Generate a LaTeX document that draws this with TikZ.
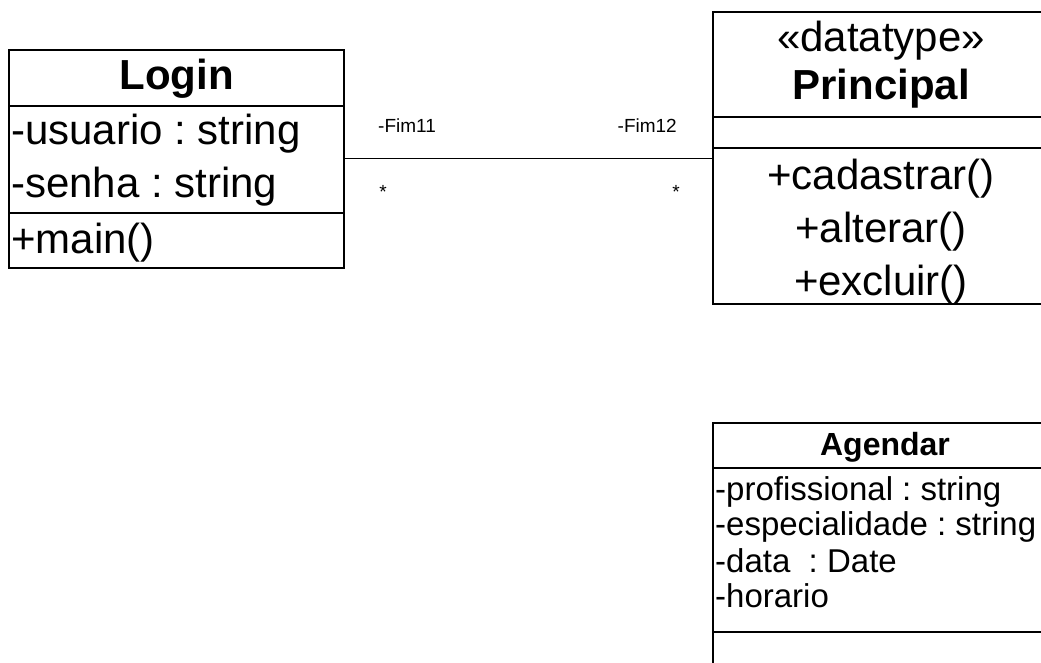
\documentclass[tikz,border=0pt]{standalone}
\usepackage{fontspec}
\setmainfont{Liberation Sans}
\frenchspacing
\begin{document}
\begin{tikzpicture}[x=1pt,y=-1pt,
  classbox/.style={draw,line width=1.4pt,inner sep=0pt},
  sep/.style={line width=1.4pt},
  assoc/.style={line width=1pt},
  big/.style={font=\fontsize{42}{50}\selectfont},
  small/.style={font=\fontsize{33}{38}\selectfont},
  tiny/.style={font=\fontsize{19}{22}\selectfont},
  attr/.style={anchor=base west,inner sep=0pt},
  centred/.style={anchor=base,inner sep=0pt}]
  \useasboundingbox (0,0) rectangle (1041,663);
  \node[classbox,minimum width=335pt,minimum height=218pt] (login) at (176.5,159) {};
  \node[classbox,minimum width=336pt,minimum height=292pt] (principal) at (881,158) {};
  \node[classbox,minimum width=344pt,minimum height=277pt] (agendar) at (885,561.5) {};
  \draw[sep] (login.west |- 0,106) -- (login.east |- 0,106);
  \draw[sep] (login.west |- 0,213) -- (login.east |- 0,213);
  \draw[sep] (principal.west |- 0,117) -- (principal.east |- 0,117);
  \draw[sep] (principal.west |- 0,148) -- (principal.east |- 0,148);
  \draw[sep] (agendar.west |- 0,468) -- (agendar.east |- 0,468);
  \draw[sep] (agendar.west |- 0,632) -- (agendar.east |- 0,632);
  \node[centred,font=\fontsize{42}{50}\selectfont\bfseries] (logintitle) at (176.5,90) {Login};
  \node[big,attr] (usuario) at (11,145) {-usuario : string};
  \node[big,attr] (senha) at (11,197) {-senha : string};
  \node[big,attr] (main) at (11,253) {+main()};
  \node[big,centred] (stereo) at (881,52) {«datatype»};
  \node[centred,font=\fontsize{42}{50}\selectfont\bfseries] (principaltitle) at (881,100) {Principal};
  \node[big,centred] (cadastrar) at (881,190) {+cadastrar()};
  \node[big,centred] (alterar) at (881,242) {+alterar()};
  \node[big,centred] (excluir) at (881,295) {+excluir()};
  \node[centred,font=\fontsize{32}{38}\selectfont\bfseries] (agendartitle) at (885,455) {Agendar};
  \node[small,attr] (profissional) at (715,500) {-profissional : string};
  \node[small,attr] (especialidade) at (715,535) {-especialidade : string};
  \node[small,attr] (data) at (715,572) {-data\ \ : Date};
  \node[small,attr] (horario) at (715,607) {-horario};
  \draw[assoc] (login.east) -- (login.east -| principal.west);
  \node[tiny,attr] (fim11) at (378,133) {-Fim11};
  \node[tiny,anchor=base east,inner sep=0pt] (fim12) at (677,133) {-Fim12};
  \node[tiny,centred] (multleft) at (383,199) {*};
  \node[tiny,centred] (multright) at (676,199) {*};
\end{tikzpicture}
\end{document}
